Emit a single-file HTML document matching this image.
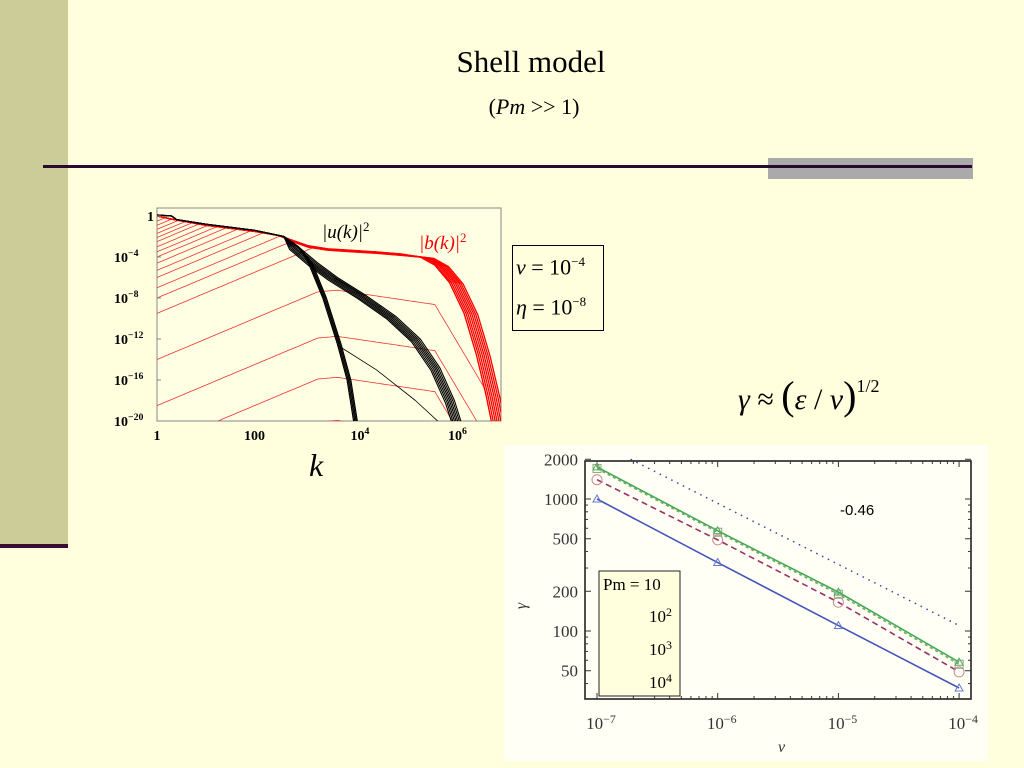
<!DOCTYPE html>
<html><head><meta charset="utf-8"><style>
html,body{margin:0;padding:0;}
body{width:1024px;height:768px;background:#ffffde;position:relative;overflow:hidden;font-family:"Liberation Serif",serif;}
.abs{position:absolute;}
</style></head><body>
<div class="abs" style="left:0;top:0;width:68px;height:548px;background:#cccc99;"></div>
<div class="abs" style="left:0;top:544px;width:68px;height:4px;background:#3a0a30;"></div>
<div class="abs" style="left:768px;top:158px;width:205px;height:21px;background:#aaaaaa;"></div>
<div class="abs" style="left:43px;top:165px;width:929px;height:3px;background:#2a0a30;"></div>
<div class="abs" style="left:0;width:1062px;top:44px;text-align:center;font-size:31px;color:#000;">Shell model</div>
<div class="abs" style="left:0;width:1068px;top:94px;text-align:center;font-size:22px;color:#000;">(<i>Pm</i> &gt;&gt; 1)</div>

<div class="abs" style="left:512px;top:245px;width:90px;height:84px;border:1px solid #000;font-size:22px;">
<div style="position:absolute;left:3px;top:8px;"><i>ν</i> = 10<sup style="font-size:13px;">−4</sup></div>
<div style="position:absolute;left:3px;top:48px;"><i>η</i> = 10<sup style="font-size:13px;">−8</sup></div>
</div>
<div class="abs" style="left:738px;top:372px;font-size:30px;white-space:nowrap;"><i>γ</i> ≈ <span style="font-size:40px;">(</span><i>ε</i> / <i>ν</i><span style="font-size:40px;">)</span><sup style="font-size:18px;position:relative;top:-6px;">1/2</sup></div>

<svg class="abs" style="left:0;top:0" width="1024" height="768">
<defs><clipPath id="lc"><rect x="157" y="208" width="344" height="213"/></clipPath></defs>
<rect x="157" y="208" width="344" height="213" fill="#ffffe4" stroke="#888" stroke-width="1"/>
<g id="lg" clip-path="url(#lc)"></g>
<g id="lt"></g>
<text x="322" y="238" font-size="19" font-style="italic">|u(k)|<tspan dy="-7" font-size="13" font-style="normal">2</tspan></text>
<text x="419" y="249" font-size="19" font-style="italic" fill="#e00">|b(k)|<tspan dy="-7" font-size="13" font-style="normal">2</tspan></text>
<text x="309" y="476" font-size="32" font-style="italic">k</text>
</svg>

<div class="abs" style="left:504px;top:445px;width:484px;height:316px;background:#fffff6;"></div>
<svg class="abs" style="left:0;top:0" width="1024" height="768">
<g id="rg"></g>
</svg>

<script>
const NS="http://www.w3.org/2000/svg";
function mk(p,t,a){const e=document.createElementNS(NS,t);for(const k in a)e.setAttribute(k,a[k]);p.appendChild(e);return e;}
// ---------- left chart data ----------
const lxTicks=[0,2,4,6];
const lxLabels=["1","100","10^4","10^6"];
const lyTicks=[0,-4,-8,-12,-16,-20];
const lyLabels=["1","10^-4","10^-8","10^-12","10^-16","10^-20"];
// saturated magnetic spectrum knots [log k, log E]
const satB=[[0,0],[0.3,-0.3],[1,-0.9],[2,-1.5],[2.5,-1.9],[2.8,-2.4],[3.1,-2.9],[3.5,-3.2],[4,-3.35],[4.5,-3.5],[5,-3.7],[5.4,-4.0],[5.7,-4.8],[6.0,-6.5],[6.3,-9.5],[6.55,-13.5],[6.75,-17.5],[6.9,-21]];
const satOffsets=[0,0.04,0.08,0.12,0.16,0.2,0.24,0.28];
// initial magnetic levels at k=1 (log E)
const redL0=[-0.5,-0.9,-1.3,-1.7,-2.1,-2.5,-3,-3.5,-4,-4.6,-5.3,-6,-7,-8,-9.5,-14,-18.5,-22.5,-26.7];
// kinetic spectra knots
const uMain=[[0,0.1],[0.3,0],[0.4,-0.35],[1,-0.8],[2,-1.4],[2.6,-2],[2.9,-3],[3.3,-4.6],[3.7,-6],[4.3,-7.8],[4.9,-9.8],[5.4,-12],[5.8,-14.8],[6.1,-18],[6.3,-21]];
const uSteep=[[0,0.1],[0.3,0],[0.4,-0.35],[1,-0.8],[2,-1.4],[2.6,-2],[2.9,-3],[3.1,-4.5],[3.4,-8],[3.7,-12.5],[3.9,-16],[4.05,-20.5]];
const uThin=[[3.7,-12.6],[4.5,-15],[5.3,-18],[5.8,-20.2]];
const mainOffsets=[0,0.03,0.06,0.09,0.12,0.15,0.18];
const steepOffsets=[0,0.025,0.05,0.075];

const LX=lk=>157+lk*48.75, LY=le=>216-le*10.25;
const lg=document.getElementById('lg'), lt=document.getElementById('lt');
function interp(kn,x){if(x<=kn[0][0])return kn[0][1];for(let i=1;i<kn.length;i++){if(x<=kn[i][0]){const a=kn[i-1],b=kn[i];return a[1]+(b[1]-a[1])*(x-a[0])/(b[0]-a[0]);}}return kn[kn.length-1][1];}
function poly(pts,col,w,name){const e=mk(lg,'polyline',{points:pts.map(p=>LX(p[0]).toFixed(1)+','+LY(p[1]).toFixed(1)).join(' '),fill:'none',stroke:col,'stroke-width':w,'stroke-linejoin':'round'});

}
// red growth curves
redL0.forEach((L0,i)=>{const pts=[];
 if(L0+7>interp(satB,3.5)){for(let x=0;x<=7.1;x+=0.05){pts.push([x,Math.min(L0+2*x,interp(satB,x))]);}}
 else{for(let x=0;x<=7.1;x+=0.05){let v;if(x<=3.3)v=L0+2*x;else if(x<=3.7)v=L0+6.6+0.4*(x-3.3);else if(x<=5.7)v=L0+6.76-0.7*(x-3.7);else v=L0+5.36-8*(x-5.7);pts.push([x,Math.min(v,interp(satB,x))]);}}
 poly(pts,'#e33','0.8','b-spectrum-'+i);});
satOffsets.forEach((o,i)=>{const pts=satB.map(p=>[p[0]+(p[0]>5.3?o:0),p[1]-(p[0]>2.5?o*0.5:0)]);poly(pts,'#f00','1.3','b-saturated-'+i);});
mainOffsets.forEach((o,i)=>{poly(uMain.map(p=>[p[0]-(p[0]>2.8?o:0),p[1]-(p[0]>2.8?o*1.5:0)]),'#000','1.1','u-spectrum-'+i);});
steepOffsets.forEach((o,i)=>{poly(uSteep.map(p=>[p[0]+(p[0]>3?o:0),p[1]]),'#000','1.2','u-steep-'+i);});
poly(uThin,'#000','0.8','u-thin');
function sup(parent,x,y,lab,anchor,fs,name,col){const t=mk(parent,'text',{x:x,y:y,'font-size':fs,'text-anchor':anchor,fill:col||'#000','font-weight':'bold'});


const m=lab.split('^');mk(t,'tspan',{}).textContent=m[0];if(m[1]){const s=mk(t,'tspan',{dy:-6,'font-size':fs*0.7});s.textContent=m[1].replace('-','−');}return t;}
lyTicks.forEach((v,i)=>{sup(lt,lyLabels[i]==="1"?147:114,LY(v)+5,lyLabels[i],'start',14,'y-tick-'+i);mk(lt,'line',{x1:157,x2:161,y1:LY(v),y2:LY(v),stroke:'#888'});});
lxTicks.forEach((v,i)=>{sup(lt,LX(v)+(i>1?8:0),LY(-20)+19,lxLabels[i],'middle',14,'x-tick-'+i);});

// ---------- right chart data ----------
const nuVals=[1e-7,1e-6,1e-5,1e-4];
const gPm10=[1000,330,110,37];
const gPm100=[1400,490,165,49];
const gPm1000=[1700,560,190,56];
const gPm10000=[1750,575,197,58];
const refLine=[[1.9e-7,2000],[1e-4,110]];
const ryTicks=[2000,1000,500,200,100,50];
const rxTickLabels=["10^-7","10^-6","10^-5","10^-4"];
const RX=v=>597+(Math.log10(v)+7)*120.7, RY=v=>499-(Math.log10(v)-3)*132;
const rg=document.getElementById('rg');
const fr=mk(rg,'rect',{x:585,y:461,width:386,height:238,fill:'none',stroke:'#222','stroke-width':1.6});


for(let d=-7;d<-3.99;d++){for(let m=1;m<10;m++){const v=m*Math.pow(10,d);if(v>1.0001e-4)break;const x=RX(v),L=m==1?6:3;mk(rg,'line',{x1:x,x2:x,y1:699,y2:699-L,stroke:'#333'});mk(rg,'line',{x1:x,x2:x,y1:461,y2:461+L,stroke:'#333'});}}
[40,50,60,70,80,90,100,200,300,400,500,600,700,800,900,1000,2000].forEach(v=>{const y=RY(v),L=(ryTicks.indexOf(v)>=0)?6:3;mk(rg,'line',{x1:585,x2:585+L,y1:y,y2:y,stroke:'#333'});mk(rg,'line',{x1:971,x2:971-L,y1:y,y2:y,stroke:'#333'});});
ryTicks.forEach((v,i)=>{const t=mk(rg,'text',{x:578,y:RY(v)+6,'font-size':17,'text-anchor':'end',fill:'#333'});t.textContent=v;

});
nuVals.forEach((v,i)=>{sup(rg,RX(v)+4,RY(30)+29,rxTickLabels[i],'middle',17,'nu-x-tick-'+i,'#333').setAttribute('font-weight','normal');});
function series(vals,col,dash,w,name){const e=mk(rg,'polyline',{points:nuVals.map((n,i)=>RX(n)+','+RY(vals[i])).join(' '),fill:'none',stroke:col,'stroke-width':w,'stroke-dasharray':dash});

}
const rl=mk(rg,'line',{x1:RX(refLine[0][0]),y1:RY(refLine[0][1]),x2:RX(refLine[1][0]),y2:RY(refLine[1][1]),stroke:'#3344aa','stroke-width':1.5,'stroke-dasharray':'1.5,5'});


series(gPm10,'#4455bb','none',1.6,'series-pm10');
series(gPm100,'#993366','6,4',1.6,'series-pm100');
series(gPm1000,'#77aa66','3,3',1.6,'series-pm1000');
series(gPm10000,'#44aa55','none',1.6,'series-pm10000');
nuVals.forEach((n,i)=>{const x=RX(n);
 mk(rg,'path',{d:`M${x-4},${RY(gPm10[i])+3}L${x+4},${RY(gPm10[i])+3}L${x},${RY(gPm10[i])-4}Z`,fill:'none',stroke:'#6677cc'});
 mk(rg,'circle',{cx:x,cy:RY(gPm100[i]),r:5,fill:'none',stroke:'#cc8899'});
 mk(rg,'rect',{x:x-4,y:RY(gPm1000[i])-4,width:8,height:8,fill:'none',stroke:'#88aa77'});
 mk(rg,'path',{d:`M${x-4},${RY(gPm10000[i])+3}L${x+4},${RY(gPm10000[i])+3}L${x},${RY(gPm10000[i])-4}Z`,fill:'none',stroke:'#55aa66'});});
const sl=mk(rg,'text',{x:840,y:515,'font-size':15,'font-family':'Liberation Sans, sans-serif'});sl.textContent='-0.46';


const lb=mk(rg,'rect',{x:599,y:571,width:81,height:125,fill:'#ffffdd',stroke:'#222'});


const le0=mk(rg,'text',{x:603,y:590,'font-size':17});le0.textContent='Pm = 10';


[["2",622],["3",655],["4",688]].forEach((a,i)=>{const t=sup(rg,649,a[1],'10^'+a[0],'start',17,'legend-entry-pm1e'+a[0]);t.setAttribute('font-weight','normal');});
const yt=mk(rg,'text',{x:526,y:606,'font-size':16,'font-style':'italic',transform:'rotate(-90 526 606)','text-anchor':'middle',fill:'#333'});yt.textContent='γ';


const xt=mk(rg,'text',{x:778,y:752,'font-size':16,'font-style':'italic',fill:'#333'});xt.textContent='ν';


</script>
</body></html>
